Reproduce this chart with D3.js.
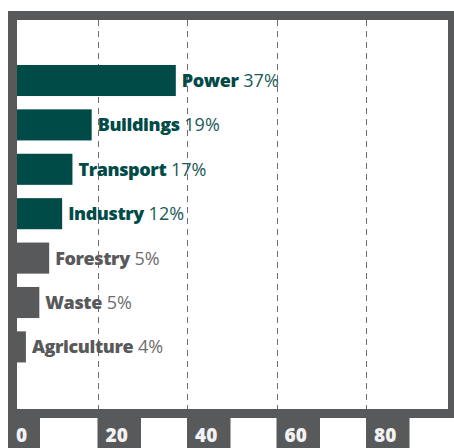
<!DOCTYPE html>
<html><head><meta charset="utf-8">
<script src="https://cdn.jsdelivr.net/npm/d3@7"></script>
<style>html,body{margin:0;padding:0;background:#fff;overflow:hidden}</style>
</head><body>
<script>
const categories = ["Power","Buildings","Transport","Industry","Forestry","Waste","Agriculture"];
const barValues = [37.5, 18.7, 14.4, 12.1, 9.2, 7.0, 4.0];
const shareLabels = ["37%","19%","17%","12%","5%","5%","4%"];
const highlighted = [true,true,true,true,false,false,false];
const tickValues = [0,20,40,60,80];

const W = 454, H = 448;
const teal = "#004a47", gray = "#58595b";
const font = "'Open Sans', Lato, sans-serif";

const svg = d3.select("body").append("svg").attr("width", W).attr("height", H);

const x = d3.scaleLinear().domain([0,100]).range([8, 455.5]);
const y = d3.scaleBand().domain(categories).range([58.3, 369.1]).paddingInner(0.3).paddingOuter(0.15);

// grid
svg.append("g").selectAll("line").data(tickValues.filter(d=>d>0)).join("line")
  .attr("x1", d=>Math.round(x(d))+0.5).attr("x2", d=>Math.round(x(d))+0.5)
  .attr("y1", 20).attr("y2", 409)
  .attr("stroke", "#6d6e70").attr("stroke-width", 1).attr("stroke-dasharray", "6,5");

// bars
svg.append("g").selectAll("rect").data(categories).join("rect")
  .attr("x", x(0)).attr("y", d=>y(d))
  .attr("width", (d,i)=>x(barValues[i]) - x(0))
  .attr("height", y.bandwidth())
  .attr("fill", (d,i)=>highlighted[i] ? teal : gray);

// labels
const lab = svg.append("g").selectAll("text").data(categories).join("text")
  .attr("x", (d,i)=>x(barValues[i]) + 6)
  .attr("y", d=>y(d) + y.bandwidth()/2 + 6.4)
  .attr("font-family", font).attr("font-size", 18)
  .attr("fill", (d,i)=>highlighted[i] ? teal : gray);
lab.append("tspan").attr("font-weight", 800).attr("letter-spacing", -0.4).text(d=>d);
lab.append("tspan").attr("font-weight", 400).attr("fill", (d,i)=>highlighted[i] ? "#1b5a57" : "#6d6e70").text((d,i)=>" " + shareLabels[i]);

// frame
svg.append("rect").attr("x", 12.5).attr("y", 15.5).attr("width", 440).attr("height", 398)
  .attr("fill", "none").attr("stroke", gray).attr("stroke-width", 9);

// tick boxes
const tg = svg.append("g").selectAll("g").data(tickValues).join("g")
  .attr("transform", d=>`translate(${x(d)},418)`);
tg.append("rect").attr("x", 0).attr("y", 0).attr("height", 30)
  .attr("width", d=> d===0 ? 32 : 43.5).attr("fill", gray);
tg.append("text").attr("x", 8).attr("y", 23.5)
  .attr("font-family", font).attr("font-weight", 800).attr("font-size", 19)
  .attr("fill", "#f2f2f2").text(d=>d);
</script>
</body></html>
